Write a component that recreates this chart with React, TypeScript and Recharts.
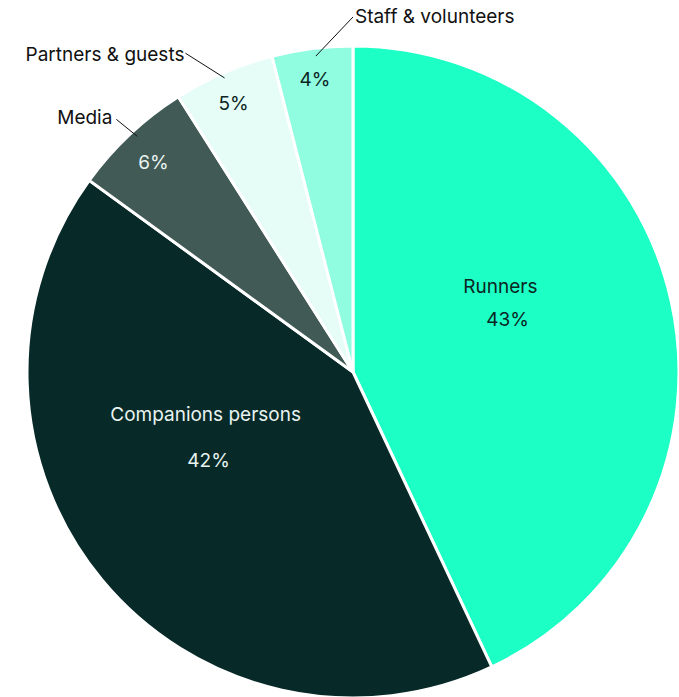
import React from "react"
import { PieChart, Pie, Cell } from "recharts"

const categories = ["Runners", "Companions persons", "Media", "Partners & guests", "Staff & volunteers"]
const shares = [43, 42, 6, 5, 4]
const colors = ["#1CFFC5", "#072A28", "#415A55", "#E6FDF7", "#90FDE1"]
const textColors = ["#0B2522", "#E9F4F1", "#E9F4F1", "#0B2522", "#0B2522"]

const data = categories.map((name, i) => ({ name, value: shares[i] }))

// label placement, as fractions of the radius from the centre
type Layout = {
    pct: [number, number]
    name?: [number, number]
    outside?: { text: [number, number]; anchor: "start" | "end"; from: [number, number]; to: [number, number] }
}
const layout: Record<string, Layout> = {
    "Runners": { name: [0.452, -0.262], pct: [0.474, -0.16] },
    "Companions persons": { name: [-0.452, 0.129], pct: [-0.443, 0.271] },
    "Media": {
        pct: [-0.612, -0.643],
        outside: { text: [-0.738, -0.782], anchor: "end", from: [-0.726, -0.775], to: [-0.662, -0.723] },
    },
    "Partners & guests": {
        pct: [-0.366, -0.825],
        outside: { text: [-0.517, -0.975], anchor: "end", from: [-0.514, -0.978], to: [-0.394, -0.902] },
    },
    "Staff & volunteers": {
        pct: [-0.117, -0.898],
        outside: { text: [0.006, -1.092], anchor: "start", from: [0, -1.089], to: [-0.114, -0.969] },
    },
}

const font = "Inter, 'Noto Sans', sans-serif"
const fs = 19

function renderLabel(props: any) {
    const { cx, cy, outerRadius, name, value, index } = props
    const l = layout[name]
    if (!l) return null
    const p = (f: [number, number]) => [cx + f[0] * outerRadius, cy + f[1] * outerRadius]
    const fill = textColors[index]
    const [px, py] = p(l.pct)
    return (
        <g>
            {l.name && (
                <text x={p(l.name)[0]} y={p(l.name)[1]} fill={fill} textAnchor="middle" dominantBaseline="central"
                    fontSize={fs} fontFamily={font}>{name}</text>
            )}
            <text x={px} y={py} fill={fill} textAnchor="middle" dominantBaseline="central"
                fontSize={fs} fontFamily={font}>{`${value}%`}</text>
            {l.outside && (
                <>
                    <line x1={p(l.outside.from)[0]} y1={p(l.outside.from)[1]} x2={p(l.outside.to)[0]} y2={p(l.outside.to)[1]}
                        stroke="#111" strokeWidth={1} />
                    <text x={p(l.outside.text)[0]} y={p(l.outside.text)[1]} fill="#111" textAnchor={l.outside.anchor}
                        dominantBaseline="central" fontSize={fs} fontFamily={font}>{name}</text>
                </>
            )}
        </g>
    )
}

export default function App() {
    return (
        <div style={{ position: "absolute", left: 0, top: 0, width: 679, height: 697, background: "#fff" }}>
            <PieChart width={679} height={697} margin={{ top: 0, right: 0, bottom: 0, left: 0 }}>
                <Pie
                    data={data}
                    dataKey="value"
                    nameKey="name"
                    cx={353}
                    cy={372}
                    outerRadius={326}
                    startAngle={90}
                    endAngle={-270}
                    stroke="#fff"
                    strokeWidth={3}
                    label={renderLabel}
                    labelLine={false}
                    isAnimationActive={false}
                >
                    {data.map((d, i) => (
                        <Cell key={d.name} fill={colors[i]} />
                    ))}
                </Pie>
            </PieChart>
        </div>
    )
}
